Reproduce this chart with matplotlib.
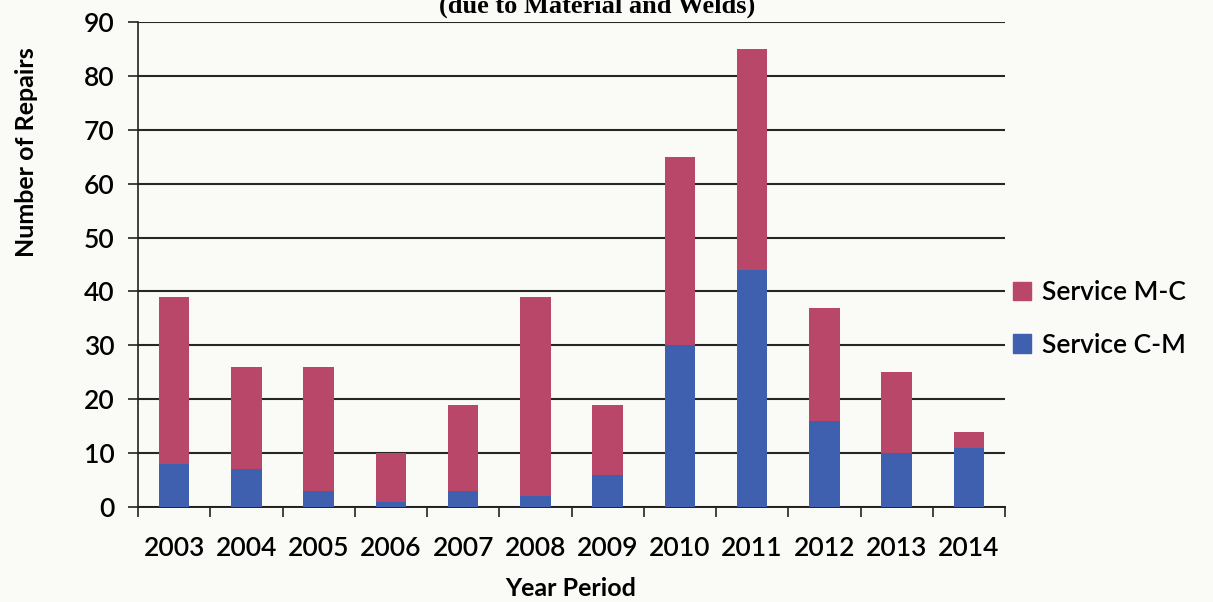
import numpy as np
from matplotlib import pyplot as plt
from matplotlib.patches import Patch

# values
years = ['2003', '2004', '2005', '2006', '2007', '2008',
         '2009', '2010', '2011', '2012', '2013', '2014']
service_cm = [8, 7, 3, 1, 3, 2, 6, 30, 44, 16, 10, 11]
totals = [39, 26, 26, 10, 19, 39, 19, 65, 85, 37, 25, 14]
service_mc = [t - c for t, c in zip(totals, service_cm)]

RED = '#B9476A'
BLUE = '#3F60AE'
BG = '#FAFAF7'

plt.rcParams['font.family'] = ['Lato', 'DejaVu Sans']
plt.rcParams['font.weight'] = 'semibold'

fig = plt.figure(figsize=(12.13, 6.02), dpi=100, facecolor=BG)
ax = fig.add_axes([138/1213, 1-507/602, (1005-138)/1213, (507-22)/602])
ax.set_facecolor(BG)

x = np.arange(len(years))
w = 0.42
ax.bar(x, service_cm, w, color=BLUE, zorder=3)
ax.bar(x, service_mc, w, bottom=service_cm, color=RED, zorder=3)

ax.set_xlim(-0.5, len(years) - 0.5)
ax.set_ylim(0, 90)
ax.set_yticks(range(0, 91, 10))
ax.yaxis.grid(True, color='#262626', lw=1.5, zorder=1)
ax.set_axisbelow(True)

ax.set_xticks(x)
ax.set_xticklabels(years, fontsize=19)
ax.set_xticks(np.arange(-0.5, len(years)), minor=True)
ax.tick_params(axis='x', which='major', length=0, pad=21)
ax.tick_params(axis='x', which='minor', length=7, width=1.2, color='#222')
ax.tick_params(axis='y', length=7, width=1.2, color='#222', labelsize=19, pad=10)

for s in ['top', 'right']:
    ax.spines[s].set_visible(False)
ax.spines['left'].set_color('#222')
ax.spines['bottom'].set_color('#222')
ax.spines['left'].set_linewidth(1.2)
ax.spines['bottom'].set_linewidth(1.4)

fig.text(571/1213, 1-588/602, 'Year Period', ha='center', va='center',
         fontsize=18, fontweight='bold')
fig.text(27/1213, 1-152/602, 'Number of Repairs', ha='center', va='center',
         rotation=90, fontsize=18, fontweight='bold')

# title: only its lower part shows at the top edge in the original
fig.text(597/1213, 1-13/602, '(due to Material and Welds)', ha='center',
         va='baseline', fontsize=19, fontweight='bold',
         family='Liberation Serif')

handles = [Patch(color=RED), Patch(color=BLUE)]
fig.legend(handles, ['Service M-C', 'Service C-M'], loc='center left',
           bbox_to_anchor=(1013/1213, 1-319/602), frameon=False,
           fontsize=19, handlelength=0.7, handleheight=0.7,
           handletextpad=0.4, labelspacing=1.05, borderpad=0,
           borderaxespad=0)

fig.savefig('out.png', dpi=100, facecolor=BG)
